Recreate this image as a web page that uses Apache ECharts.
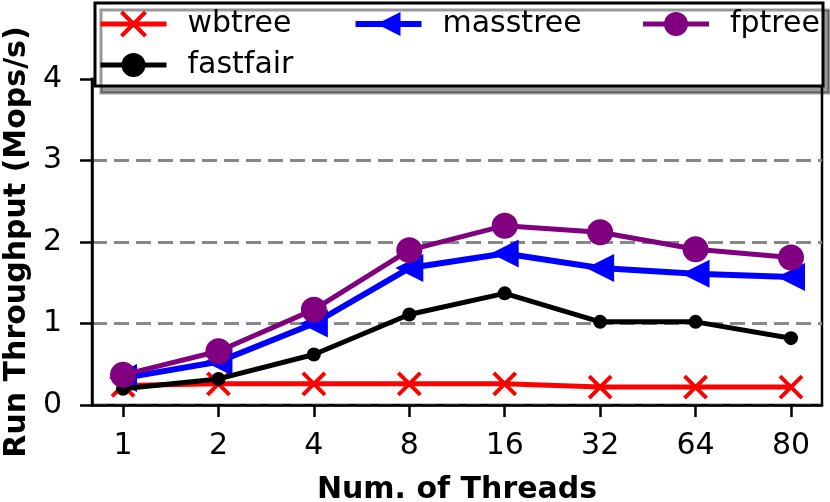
<!DOCTYPE html>
<html lang="en">
<head>
<meta charset="UTF-8">
<title>Run Throughput</title>
<style>
  html, body { margin: 0; padding: 0; background: #fff; }
  #main { width: 830px; height: 502px; }
</style>
</head>
<body>
<div id="main"></div>
<script src="https://cdn.jsdelivr.net/npm/echarts@6/dist/echarts.min.js"></script>
<script>
  // thread counts, shown as evenly spaced positions 0..7
  var threads = ['1', '2', '4', '8', '16', '32', '64', '80'];
  var positions = [0, 1, 2, 3, 4, 5, 6, 7];
  var yTicks = [0, 1, 2, 3, 4];

  // Mops/s
  var wbtree   = [0.24, 0.26, 0.26, 0.26, 0.26, 0.22, 0.22, 0.22];
  var masstree = [0.33, 0.53, 1.00, 1.68, 1.86, 1.68, 1.61, 1.57];
  var fptree   = [0.37, 0.66, 1.17, 1.90, 2.20, 2.12, 1.91, 1.81];
  var fastfair = [0.20, 0.32, 0.62, 1.11, 1.37, 1.02, 1.02, 0.82];

  function pairs(vals) {
    return positions.map(function (p, i) { return [p, vals[i]]; });
  }

  var font = 'DejaVu Sans';
  var chart = echarts.init(document.getElementById('main'));

  var option = {
    animation: false,
    grid: {
      left: 92, right: 8, top: 79, bottom: 97,
      containLabel: false, outerBoundsMode: 'none',
      show: true, borderColor: '#000', borderWidth: 2.5, backgroundColor: 'transparent'
    },
    legend: {
      left: 95, top: 3,
      width: 760,
      itemWidth: 66, itemHeight: 30, itemGap: 11,
      padding: [6, 3, 6, 3],
      backgroundColor: '#fff',
      borderColor: '#000', borderWidth: 3, borderRadius: 0,
      shadowColor: 'rgba(0,0,0,0.4)', shadowBlur: 0, shadowOffsetX: 6, shadowOffsetY: 7,
      textStyle: { fontFamily: font, fontSize: 30, color: '#000', lineHeight: 30, padding: [0, 0, 0, 16] },
      data: [
        { name: 'wbtree', textStyle: { width: 154 }, lineStyle: { width: 5 },
          itemStyle: { borderWidth: 4, borderColor: '#ff0000' } },
        { name: 'masstree', textStyle: { width: 187 }, lineStyle: { width: 6 } },
        { name: 'fptree', textStyle: { width: 90 }, lineStyle: { width: 5 } },
        { name: 'fastfair', textStyle: { width: 154 }, lineStyle: { width: 5 } }
      ]
    },
    xAxis: {
      type: 'value',
      min: -0.325, max: 7.325,
      name: 'Num. of Threads',
      nameLocation: 'middle',
      nameGap: 70,
      nameTextStyle: { fontFamily: font, fontSize: 30, fontWeight: 'bold', color: '#000' },
      axisLine: { show: true, onZero: false, lineStyle: { color: '#000', width: 2.5 } },
      axisTick: { show: true, length: 12, lineStyle: { color: '#000', width: 2.5 }, customValues: positions },
      axisLabel: {
        fontFamily: font, fontSize: 30, color: '#000', margin: 26,
        customValues: positions,
        formatter: function (v) { return threads[Math.round(v)]; }
      },
      splitLine: { show: false }
    },
    yAxis: {
      type: 'value',
      min: 0, max: 4, interval: 1,
      name: 'Run Throughput (Mops/s)',
      nameLocation: 'middle',
      nameGap: 57,
      nameTextStyle: { fontFamily: font, fontSize: 30, fontWeight: 'bold', color: '#000' },
      axisLine: { show: true, onZero: false, lineStyle: { color: '#000', width: 2.5 } },
      axisTick: { show: true, length: 12, lineStyle: { color: '#000', width: 2.5 } },
      axisLabel: {
        fontFamily: font, fontSize: 30, color: '#000', margin: 30,
        formatter: function (v) { return yTicks.indexOf(v) >= 0 ? String(v) : ''; }
      },
      splitLine: { show: true, lineStyle: { color: '#888', width: 3, type: [15, 7] } }
    },
    series: [
      {
        name: 'wbtree', type: 'line', z: 2,
        data: pairs(wbtree),
        symbol: 'path://M0,0L10,10M10,0L0,10', symbolSize: 22,
        lineStyle: { color: '#ff0000', width: 5 },
        itemStyle: { color: 'rgba(0,0,0,0)', borderColor: '#ff0000', borderWidth: 4 }
      },
      {
        name: 'masstree', type: 'line', z: 3,
        data: pairs(masstree),
        symbol: 'path://M0,5L10,0L10,10Z', symbolSize: 28,
        lineStyle: { color: '#0000ff', width: 6 },
        itemStyle: { color: '#0000ff', borderWidth: 0 }
      },
      {
        name: 'fastfair', type: 'line', z: 4,
        data: pairs(fastfair),
        symbol: 'circle', symbolSize: 14,
        lineStyle: { color: '#000', width: 5 },
        itemStyle: { color: '#000', borderWidth: 0 }
      },
      {
        name: 'fptree', type: 'line', z: 5,
        data: pairs(fptree),
        symbol: 'circle', symbolSize: 26,
        lineStyle: { color: '#800080', width: 5 },
        itemStyle: { color: '#800080', borderWidth: 0 }
      }
    ]
  };

  chart.setOption(option);
  window.addEventListener('resize', function () { chart.resize(); });
</script>
</body>
</html>
